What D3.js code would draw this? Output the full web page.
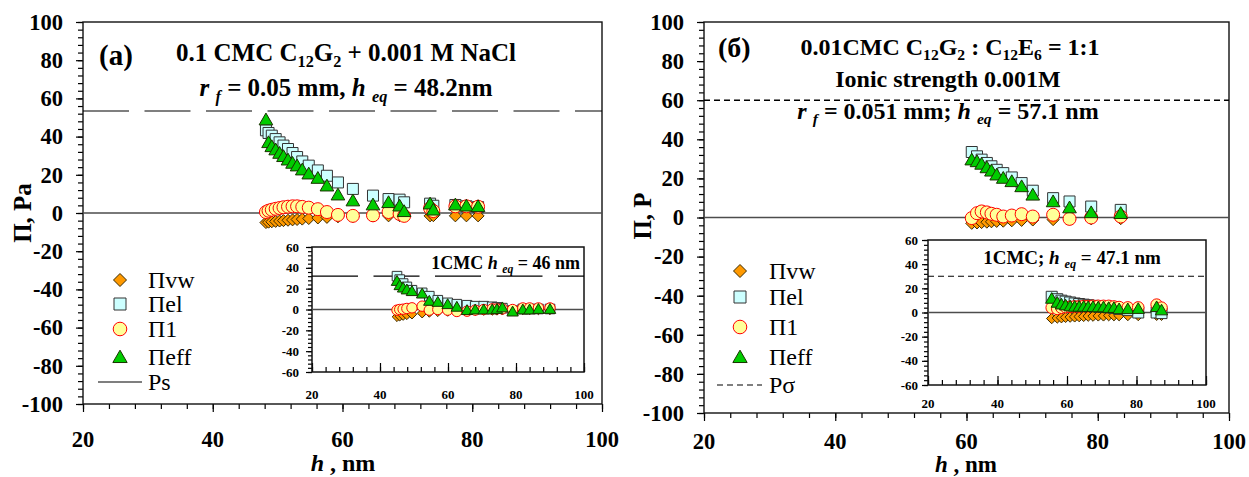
<!DOCTYPE html>
<html><head><meta charset="utf-8">
<script src="https://cdn.jsdelivr.net/npm/d3@7"></script>
<style>
body{margin:0;background:#fff}
svg{display:block}
text{font-family:"Liberation Serif","Times New Roman",serif;fill:#000}
</style>
</head><body>
<script>
// ---------------- DATA ----------------
const xTickValues = [20, 40, 60, 80, 100];
const yTickMain = [-100, -80, -60, -40, -20, 0, 20, 40, 60, 80, 100];
const yTickInset = [-60, -40, -20, 0, 20, 40, 60];
const seriesNames = ["Πvw", "Πel", "Π1", "Πeff"];

// Panel (a), main plot: 0.1 CMC C12G2 + 0.001 M NaCl
const hA = [48.2, 48.6, 49.1, 49.7, 50.3, 50.9, 51.6, 52.3, 53.0, 53.8, 54.8, 56.2, 57.6, 59.3, 61.6, 64.7, 67.1, 68.8, 69.5, 73.5, 74.0, 77.4, 79.1, 80.9];
const vwA = [-5.0, -4.8, -4.6, -4.4, -4.2, -4.0, -3.8, -3.6, -3.4, -3.2, -2.9, -2.6, -2.3, -2.0, -1.8, -1.6, -1.5, -1.4, -1.4, -1.5, -1.4, -1.5, -1.5, -1.5];
const elA = [43.3, 41.9, 40.5, 38.7, 37.0, 35.3, 33.5, 31.4, 29.3, 27.0, 24.8, 22.3, 19.5, 16.0, 12.6, 9.1, 7.3, 7.0, 5.6, 4.9, 3.8, 4.2, 3.5, 3.1];
const p1A = [0.5, 1.2, 1.7, 2.2, 2.6, 3.0, 3.3, 3.5, 3.5, 3.2, 2.8, 2.0, 0.5, -1.0, -1.5, -1.2, 0.5, -0.5, -1.5, 2.5, 1.0, 3.5, 3.5, 3.3];
const effA = [48.9, 37.0, 34.9, 33.2, 31.4, 29.7, 27.9, 26.2, 24.8, 22.7, 20.6, 18.3, 14.3, 9.6, 6.5, 4.4, 5.6, 3.8, 0.9, 4.9, 1.7, 4.4, 3.8, 3.5];
const psA = 53.4;

// Panel (a), inset: 1CMC
const hAi = [45.0, 45.8, 46.8, 47.9, 49.4, 52.4, 54.5, 57.0, 59.9, 62.6, 65.6, 68.0, 70.5, 73.0, 74.4, 76.0, 79.0, 82.0, 84.0, 86.6, 90.0];
const vwAi = [-7.0, -6.4, -5.8, -5.1, -4.5, -3.5, -2.8, -2.2, -1.9, -1.6, -1.3, -1.1, -1.0, -0.9, -0.8, -0.7, -0.6, -0.5, -0.5, -0.4, -0.4];
const elAi = [32.0, 28.7, 24.9, 21.7, 18.5, 16.0, 12.8, 8.9, 6.4, 5.1, 4.1, 3.2, 3.2, 2.6, 2.0, 1.3, -1.0, 0.5, 0.5, 0.5, 0.5];
const p1Ai = [-0.6, 0.0, 0.3, 1.0, 1.6, 3.2, -0.6, 0.0, -0.6, -1.9, -1.6, -0.6, 0.0, 0.6, 0.6, 0.6, 0.0, 1.5, 1.5, 1.5, 1.5];
const effAi = [27.4, 23.3, 21.0, 19.2, 17.6, 15.3, 8.3, 7.3, 5.1, 2.6, -0.6, 0.0, 0.0, 0.0, 0.5, 2.0, -2.0, 0.0, 0.0, 0.5, 0.5];
const psAi = 32;

// Panel (б), main plot: 0.01CMC C12G2 : C12E6 = 1:1
const hB = [60.8, 61.6, 62.3, 63.1, 63.8, 64.6, 65.6, 66.9, 68.4, 70.1, 73.2, 75.7, 79.0, 83.5];
const vwB = [-3.0, -2.8, -2.6, -2.4, -2.2, -2.0, -1.9, -1.7, -1.5, -1.3, -1.1, -0.9, -0.7, -0.6];
const elB = [33.5, 31.3, 29.6, 27.9, 26.2, 24.4, 22.7, 20.5, 17.6, 13.7, 9.9, 8.2, 5.6, 3.9];
const p1B = [-0.3, 2.2, 3.1, 2.6, 1.9, 1.4, 0.5, 1.0, 1.7, 0.5, 1.4, -0.7, 0.0, 0.5];
const effB = [29.6, 28.7, 27.4, 25.6, 23.9, 21.9, 20.2, 18.5, 15.9, 11.6, 8.2, 5.1, 2.6, 2.2];
const psB = 60;

// Panel (б), inset: 1CMC
const hBi = [55.6, 57.2, 58.4, 59.6, 60.9, 62.2, 63.5, 64.8, 66.1, 67.5, 69.0, 70.5, 72.0, 73.5, 75.0, 77.5, 80.5, 85.8, 87.2];
const vwBi = [-5.0, -4.5, -4.3, -4.0, -3.8, -3.6, -3.4, -3.2, -3.0, -3.0, -2.8, -2.8, -2.6, -2.6, -2.6, -2.5, -2.5, -2.3, -2.3];
const elBi = [13.0, 11.0, 9.8, 9.0, 8.3, 7.5, 7.0, 6.5, 6.0, 5.5, 5.0, 4.6, 4.2, 3.8, 3.0, 2.0, 0.0, 0.0, -0.5];
const p1Bi = [4.0, 3.0, 4.0, 4.5, 4.7, 5.0, 5.0, 5.3, 5.3, 5.5, 5.5, 5.5, 5.5, 5.0, 4.5, 4.2, 4.2, 6.5, 4.0];
const effBi = [11.6, 8.3, 6.9, 6.1, 5.3, 5.0, 5.0, 5.0, 4.8, 4.8, 4.5, 4.5, 4.0, 4.0, 3.0, 3.0, 3.2, 4.7, 2.0];
const psBi = 30;

// ---------------- DRAWING ----------------
const W = 1249, H = 477;
const svg = d3.select("body").append("svg").attr("width", W).attr("height", H);
svg.append("rect").attr("width", W).attr("height", H).attr("fill", "#fff");

const styles = {
  vw:  {type: "diamond",  fill: "#FF9900", stroke: "#3a2a00"},
  el:  {type: "square",   fill: "#CCFFFF", stroke: "#333333"},
  p1:  {type: "circle",   fill: "#FFFF99", stroke: "#FF0000"},
  eff: {type: "triangle", fill: "#00CC00", stroke: "#1a3300"}
};

function markerPath(type, s) {
  if (type === "diamond") return `M0,${-s}L${s},0L0,${s}L${-s},0Z`;
  if (type === "square") return `M${-s},${-s}H${s}V${s}H${-s}Z`;
  if (type === "triangle") { const w = s * 1.1, h = s * 1.0; return `M0,${-h * 1.05}L${w},${h * 0.85}L${-w},${h * 0.85}Z`; }
  return d3.symbol(d3.symbolCircle, Math.PI * s * s)();
}

function drawMarkers(g, x, y, hs, vals, key, s) {
  const st = styles[key];
  g.append("g").selectAll("path").data(hs.map((h, i) => [h, vals[i]])).join("path")
    .attr("d", markerPath(st.type, s))
    .attr("transform", d => `translate(${x(d[0])},${y(d[1])})`)
    .attr("fill", st.fill).attr("stroke", st.stroke).attr("stroke-width", 1);
}

// rich text: parts = [{t, i (italic), sub}]
function rich(g, x, y, parts, size, anchor, weight) {
  const t = g.append("text").attr("x", x).attr("y", y)
    .attr("font-size", size).attr("font-weight", weight || "bold")
    .attr("text-anchor", anchor || "middle");
  parts.forEach(p => {
    const sp = t.append("tspan").text(p.t);
    if (p.i) sp.attr("font-style", "italic");
    if (p.sub) sp.attr("font-size", size * 0.65).attr("baseline-shift", -size * 0.22);
  });
  return t;
}

function styleAxis(g) {
  g.select(".domain").remove();
  g.selectAll("line").attr("stroke", "#000").attr("stroke-width", 1.2);
  g.selectAll("text").remove();
}

function plotArea(g, box, xDom, yDom, yTicks, opt) {
  const x = d3.scaleLinear().domain(xDom).range([box.x0, box.x1]);
  const y = d3.scaleLinear().domain(yDom).range([box.y1, box.y0]);
  const minorStep = 4;
  g.append("g").attr("transform", `translate(${box.x0},0)`)
    .call(d3.axisLeft(y).tickValues(d3.range(yDom[0], yDom[1] + 0.1, minorStep)).tickSize(opt.yMinor).tickFormat(""))
    .call(styleAxis);
  g.append("g").attr("transform", `translate(${box.x0},0)`)
    .call(d3.axisLeft(y).tickValues(yTicks).tickSize(opt.yMajor).tickFormat(""))
    .call(styleAxis);
  const xAx = opt.xInside ? d3.axisTop : d3.axisBottom;
  g.append("g").attr("transform", `translate(0,${box.y1})`)
    .call(xAx(x).tickValues(d3.range(xDom[0], xDom[1] + 0.1, minorStep)).tickSize(opt.xMinor).tickFormat(""))
    .call(styleAxis);
  g.append("g").attr("transform", `translate(0,${box.y1})`)
    .call(xAx(x).tickValues(xTickValues).tickSize(opt.xMajor).tickFormat(""))
    .call(styleAxis);
  g.append("rect").attr("x", box.x0).attr("y", box.y0)
    .attr("width", box.x1 - box.x0).attr("height", box.y1 - box.y0)
    .attr("fill", "none").attr("stroke", "#111").attr("stroke-width", opt.frame);
  g.append("g").selectAll("text").data(yTicks).join("text")
    .attr("x", box.x0 - opt.yLabOff).attr("y", d => y(d)).attr("dy", "0.35em")
    .attr("text-anchor", "end").attr("font-weight", "bold").attr("font-size", opt.font)
    .text(d => d);
  g.append("g").selectAll("text").data(xTickValues).join("text")
    .attr("x", d => x(d)).attr("y", box.y1 + opt.xLabOff).attr("dy", "0.35em")
    .attr("text-anchor", "middle").attr("font-weight", "bold").attr("font-size", opt.font)
    .text(d => d);
  g.append("line").attr("x1", box.x0).attr("x2", box.x1).attr("y1", y(0)).attr("y2", y(0))
    .attr("stroke", "#4d4d4d").attr("stroke-width", opt.zeroW);
  return {x, y};
}

function refLine(g, sc, box, v, dash, color, w) {
  g.append("line").attr("x1", box.x0).attr("x2", box.x1).attr("y1", sc.y(v)).attr("y2", sc.y(v))
    .attr("stroke", color).attr("stroke-width", w).attr("stroke-dasharray", dash);
}

function drawSeries(g, sc, hs, data, sizes) {
  drawMarkers(g, sc.x, sc.y, hs, data.vw, "vw", sizes.vw);
  drawMarkers(g, sc.x, sc.y, hs, data.el, "el", sizes.el);
  drawMarkers(g, sc.x, sc.y, hs, data.p1, "p1", sizes.p1);
  drawMarkers(g, sc.x, sc.y, hs, data.eff, "eff", sizes.eff);
}

function legend(g, lx, tx, rows, lineRow, lineX, lineName, dash) {
  const keys = ["vw", "el", "p1", "eff"];
  const sz = {vw: 6.5, el: 6, p1: 6.8, eff: 6.5};
  keys.forEach((k, i) => {
    const st = styles[k];
    g.append("path").attr("d", markerPath(st.type, sz[k]))
      .attr("transform", `translate(${lx},${rows[i]})`)
      .attr("fill", st.fill).attr("stroke", st.stroke).attr("stroke-width", 1);
    g.append("text").attr("x", tx).attr("y", rows[i]).attr("dy", "0.35em")
      .attr("font-size", 24).text(seriesNames[i]);
  });
  g.append("line").attr("x1", lineX[0]).attr("x2", lineX[1]).attr("y1", lineRow).attr("y2", lineRow)
    .attr("stroke", "#000").attr("stroke-width", 1.2).attr("stroke-dasharray", dash);
  g.append("text").attr("x", tx).attr("y", lineRow).attr("dy", "0.35em")
    .attr("font-size", 24).text(lineName);
}

const mainOpt = {yMinor: 5, yMajor: 7, xMinor: 5, xMajor: 8, xInside: false, frame: 1.4, yLabOff: 20, xLabOff: 35, font: 22.5, zeroW: 1.4};
const insetOpt = {yMinor: 4, yMajor: 6, xMinor: 5, xMajor: 9, xInside: true, frame: 1.5, yLabOff: 13, xLabOff: 22, font: 13, zeroW: 1.4};
const mainSizes = {vw: 6, el: 5.5, p1: 6.5, eff: 6.2};
const insetSizes = {vw: 4.8, el: 4.8, p1: 5.2, eff: 5.2};

// ===== Panel (a) =====
{
  const g = svg.append("g");
  const box = {x0: 83, x1: 602, y0: 22, y1: 404};
  const sc = plotArea(g, box, [20, 100], [-100, 100], yTickMain, mainOpt);
  refLine(g, sc, box, psA, "46,15.5", "#000", 1.2);
  drawSeries(g, sc, hA, {vw: vwA, el: elA, p1: p1A, eff: effA}, mainSizes);

  const ibox = {x0: 312, x1: 584, y0: 247, y1: 372};
  g.append("rect").attr("x", ibox.x0).attr("y", ibox.y0).attr("width", ibox.x1 - ibox.x0).attr("height", ibox.y1 - ibox.y0).attr("fill", "#fff");
  const isc = plotArea(g, ibox, [20, 100], [-60, 60], yTickInset, insetOpt);
  refLine(g, isc, ibox, psAi, "46,15.5", "#000", 1.1);
  drawSeries(g, isc, hAi, {vw: vwAi, el: elAi, p1: p1Ai, eff: effAi}, insetSizes);
  rich(g, 580, 269, [{t: "1CMC "}, {t: "h", i: 1}, {t: " "}, {t: "eq", i: 1, sub: 1}, {t: "  = 46 nm"}], 18, "end");

  legend(g, 120, 148, [280, 304, 329, 357], 382, [98, 142], "Ps", null);

  g.append("text").attr("x", 99).attr("y", 55).attr("dy", "0.35em").attr("font-size", 29).attr("font-weight", "bold").text("(a)");
  rich(g, 346, 61, [{t: "0.1 CMC C"}, {t: "12", sub: 1}, {t: "G"}, {t: "2", sub: 1}, {t: " + 0.001 M NaCl"}], 25);
  rich(g, 346, 96, [{t: "r", i: 1}, {t: " "}, {t: "f", i: 1, sub: 1}, {t: " = 0.05 mm, "}, {t: "h", i: 1}, {t: " "}, {t: "eq", i: 1, sub: 1}, {t: "  = 48.2nm"}], 25);
  g.append("text").attr("transform", "translate(31,213) rotate(-90)").attr("text-anchor", "middle")
    .attr("font-size", 25).attr("font-weight", "bold").text("Π, Pa");
  rich(g, 343, 471, [{t: "h", i: 1}, {t: " , nm"}], 24);
}

// ===== Panel (б) =====
{
  const g = svg.append("g");
  const box = {x0: 704, x1: 1229, y0: 22, y1: 413};
  const sc = plotArea(g, box, [20, 100], [-100, 100], yTickMain, Object.assign({}, mainOpt, {xLabOff: 28}));
  refLine(g, sc, box, psB, "6,4", "#000", 1.6);
  drawSeries(g, sc, hB, {vw: vwB, el: elB, p1: p1B, eff: effB}, mainSizes);

  const ibox = {x0: 928, x1: 1206, y0: 240, y1: 385};
  g.append("rect").attr("x", ibox.x0).attr("y", ibox.y0).attr("width", ibox.x1 - ibox.x0).attr("height", ibox.y1 - ibox.y0).attr("fill", "#fff");
  const isc = plotArea(g, ibox, [20, 100], [-60, 60], yTickInset, Object.assign({}, insetOpt, {yLabOff: 10, xLabOff: 18}));
  refLine(g, isc, ibox, psBi, "6,4", "#000", 1.1);
  drawSeries(g, isc, hBi, {vw: vwBi, el: elBi, p1: p1Bi, eff: effBi}, {vw: 5.2, el: 5.5, p1: 5.8, eff: 5.6});
  rich(g, 1072, 264, [{t: "1CMC; "}, {t: "h", i: 1}, {t: " "}, {t: "eq", i: 1, sub: 1}, {t: "  = 47.1 nm"}], 19);

  legend(g, 740, 769, [271, 297, 327, 357], 385, [717, 762], "Pσ", "6,4");

  g.append("text").attr("x", 718).attr("y", 47).attr("dy", "0.35em").attr("font-size", 28).attr("font-weight", "bold").text("(б)");
  rich(g, 950, 55, [{t: "0.01CMC C"}, {t: "12", sub: 1}, {t: "G"}, {t: "2", sub: 1}, {t: " : C"}, {t: "12", sub: 1}, {t: "E"}, {t: "6", sub: 1}, {t: " = 1:1"}], 24);
  g.append("text").attr("x", 948).attr("y", 79).attr("dy", "0.35em").attr("text-anchor", "middle")
    .attr("font-size", 24).attr("font-weight", "bold").text("Ionic strength 0.001M");
  rich(g, 948, 119, [{t: "r", i: 1}, {t: " "}, {t: "f", i: 1, sub: 1}, {t: " = 0.051 mm; "}, {t: "h", i: 1}, {t: " "}, {t: "eq", i: 1, sub: 1}, {t: "  = 57.1 nm"}], 24);
  g.append("text").attr("transform", "translate(651,216) rotate(-90)").attr("text-anchor", "middle")
    .attr("font-size", 25).attr("font-weight", "bold").text("Π, P");
  rich(g, 966, 472, [{t: "h", i: 1}, {t: " , nm"}], 23);
}
</script>
</body></html>
